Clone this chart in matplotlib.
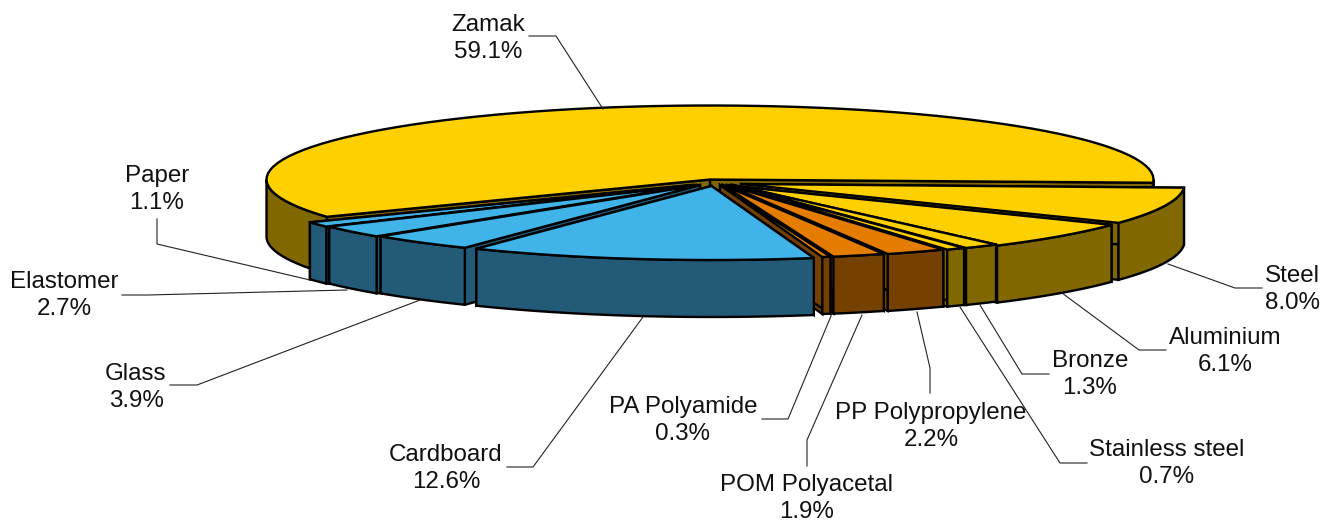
import numpy as np
import matplotlib
matplotlib.use("Agg")
import matplotlib.pyplot as plt
from matplotlib.patches import Polygon

# data, in pie order starting at the right and going anticlockwise
materials = ['Zamak', 'Paper', 'Elastomer', 'Glass', 'Cardboard', 'PA Polyamide', 'POM Polyacetal',
             'PP Polypropylene', 'Stainless steel', 'Bronze', 'Aluminium', 'Steel']
shares = [59.1, 1.1, 2.7, 3.9, 12.6, 0.3, 1.9, 2.2, 0.7, 1.3, 6.1, 8.0]

# colour of each slice: top face and wall
top_colors = ['#FFD000', '#40B3E8', '#40B3E8', '#40B3E8', '#40B3E8', '#E47C00', '#E47C00', '#E47C00',
              '#FFD000', '#FFD000', '#FFD000', '#FFD000']
wall_colors = ['#806700', '#235A77', '#235A77', '#235A77', '#235A77', '#744100', '#744100', '#744100',
               '#806700', '#806700', '#806700', '#806700']

# where each exploded slice has its tip, in picture pixels
tip_x = [710, 693, 696, 700, 711.5, 720, 723, 727, 731, 733, 734, 741]
tip_y = [179.5, 185, 185, 185, 186, 185, 185, 185, 185, 185, 186, 184]

# label text centre and leader line for each slice
label_x = [488, 157, 64, 136, 446, 683, 807, 931, 1167, 1090, 1225, 1292]
label_y = [38.5, 189.5, 295.5, 387.5, 468.5, 420.5, 498.5, 426.5, 463.5, 374.5, 351.5, 289.5]
leaders = [
    [(529, 36), (556, 36), (603, 109)],
    [(157, 219), (157, 244), (310, 280)],
    [(122, 295), (148, 295), (347, 290)],
    [(170, 385), (197, 385), (420, 300)],
    [(507, 467), (533, 467), (643, 317)],
    [(762, 419), (788, 419), (831, 316)],
    [(807, 466), (807, 440), (862, 315)],
    [(930, 393), (930, 368), (917, 312)],
    [(1087, 463), (1060, 463), (960, 307)],
    [(1049, 374), (1022, 374), (980, 305)],
    [(1166, 350), (1139, 350), (1062, 293)],
    [(1262, 288), (1235, 288), (1168, 264)],
]

# pie shape in pixels
start_angle = -2.5
rx, ry = 443.5, 74
depth = 57
edge_lw = 1.7

# back slices first, nearest slice last
draw_order = [0, 1, 2, 3, 11, 10, 9, 8, 7, 6, 5, 4]

plt.rcParams['font.family'] = ['Liberation Sans', 'DejaVu Sans']

fig = plt.figure(figsize=(13.32, 5.22), dpi=100)
ax = fig.add_axes([0, 0, 1, 1])
ax.set_xlim(0, 1332)
ax.set_ylim(522, 0)
ax.axis('off')

bounds = start_angle + np.concatenate([[0], np.cumsum(shares)]) * 3.6


def arc(x0, y0, a0, a1):
    t = np.radians(np.linspace(a0, a1, 80))
    return np.column_stack([x0 + rx * np.cos(t), y0 - ry * np.sin(t)])


def add_face(points, color):
    ax.add_patch(Polygon(points, closed=True, facecolor=color, edgecolor='black',
                         linewidth=edge_lw, joinstyle='miter'))


for i in draw_order:
    a0, a1 = bounds[i], bounds[i + 1]
    x0, y0 = tip_x[i], tip_y[i]

    # the two cut faces
    for a in (a0, a1):
        px = x0 + rx * np.cos(np.radians(a))
        py = y0 - ry * np.sin(np.radians(a))
        add_face([(x0, y0), (px, py), (px, py + depth), (x0, y0 + depth)], wall_colors[i])

    # the rim, only where it faces the viewer
    for lo, hi in ((-180, 0), (180, 360)):
        s0, s1 = max(a0, lo), min(a1, hi)
        if s1 > s0:
            rim = arc(x0, y0, s0, s1)
            add_face(np.vstack([rim, rim[::-1] + [0, depth]]), wall_colors[i])

    # top face
    add_face(np.vstack([[(x0, y0)], arc(x0, y0, a0, a1)]), top_colors[i])

# labels and leader lines
for name, share, lx, ly, line in zip(materials, shares, label_x, label_y, leaders):
    ax.text(lx, ly, f"{name}\n{share:.1f}%", ha='center', va='center', fontsize=17.4,
            color='#111111', linespacing=1.32)
    xs, ys = zip(*line)
    ax.plot(xs, ys, color='#222222', linewidth=0.8, solid_joinstyle='miter')

plt.savefig("out.png", dpi=100)
